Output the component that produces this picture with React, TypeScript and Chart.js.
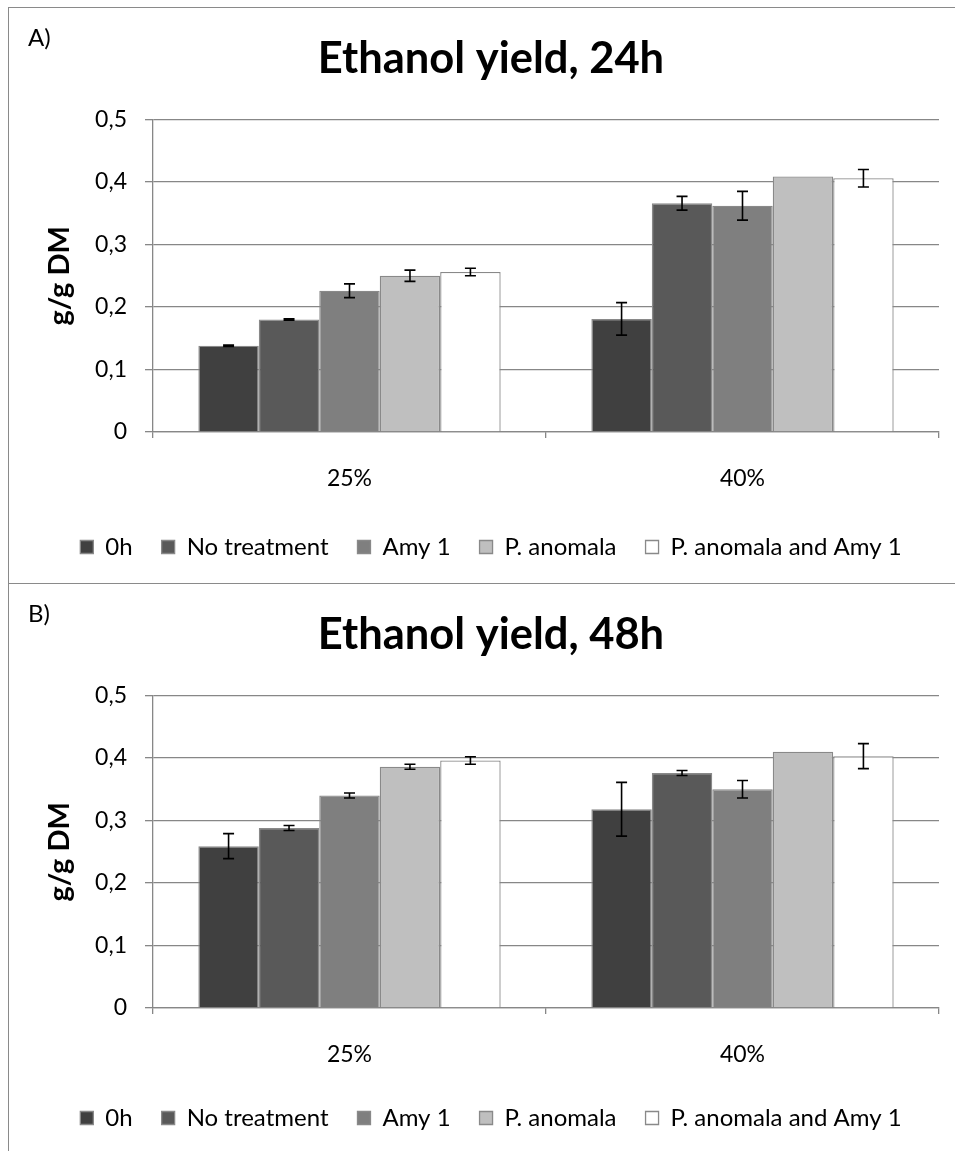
import React, { useEffect, useRef } from 'react';
import { Chart, registerables } from 'chart.js';

Chart.register(...registerables);

// ---------- data ----------
const categories = ['25%', '40%'];
const seriesNames = ['0h', 'No treatment', 'Amy 1', 'P. anomala', 'P. anomala and Amy 1'];
const seriesColors = ['#404040', '#595959', '#7f7f7f', '#bfbfbf', '#ffffff'];
const yTickValues = [0, 0.1, 0.2, 0.3, 0.4, 0.5];
const yTickLabels = ['0', '0,1', '0,2', '0,3', '0,4', '0,5'];

// Panel A: 24h
const yield24_0h = [0.138, 0.181];
const yield24_noTreatment = [0.180, 0.366];
const yield24_amy1 = [0.226, 0.362];
const yield24_pAnomala = [0.250, 0.409];
const yield24_pAnomalaAmy1 = [0.256, 0.406];
const err24_0h = [0.001, 0.026];
const err24_noTreatment = [0.001, 0.011];
const err24_amy1 = [0.011, 0.023];
const err24_pAnomala = [0.009, 0];
const err24_pAnomalaAmy1 = [0.006, 0.014];

// Panel B: 48h
const yield48_0h = [0.259, 0.318];
const yield48_noTreatment = [0.288, 0.376];
const yield48_amy1 = [0.340, 0.350];
const yield48_pAnomala = [0.386, 0.410];
const yield48_pAnomalaAmy1 = [0.396, 0.403];
const err48_0h = [0.020, 0.043];
const err48_noTreatment = [0.004, 0.004];
const err48_amy1 = [0.004, 0.014];
const err48_pAnomala = [0.004, 0];
const err48_pAnomalaAmy1 = [0.006, 0.020];

const values24 = [yield24_0h, yield24_noTreatment, yield24_amy1, yield24_pAnomala, yield24_pAnomalaAmy1];
const errors24 = [err24_0h, err24_noTreatment, err24_amy1, err24_pAnomala, err24_pAnomalaAmy1];
const values48 = [yield48_0h, yield48_noTreatment, yield48_amy1, yield48_pAnomala, yield48_pAnomalaAmy1];
const errors48 = [err48_0h, err48_noTreatment, err48_amy1, err48_pAnomala, err48_pAnomalaAmy1];

// ---------- styling ----------
const FONT = 'Lato, "Open Sans", sans-serif';
const GRID = '#878787';
const CANVAS_W = 964;
const CANVAS_H = 575;

const errorBarPlugin = {
  id: 'errorBars',
  afterDatasetsDraw(chart: any) {
    const ctx = chart.ctx;
    const yScale = chart.scales.y;
    chart.data.datasets.forEach((ds: any, di: number) => {
      const errs = ds.errors;
      if (!errs) return;
      const meta = chart.getDatasetMeta(di);
      meta.data.forEach((bar: any, i: number) => {
        const e = errs[i];
        if (!e) return;
        const v = ds.data[i];
        const top = yScale.getPixelForValue(v + e);
        const bot = yScale.getPixelForValue(v - e);
        const x = bar.x;
        ctx.save();
        ctx.strokeStyle = '#000000';
        ctx.lineWidth = 1.6;
        ctx.beginPath();
        ctx.moveTo(x, top);
        ctx.lineTo(x, bot);
        ctx.moveTo(x - 5.5, top);
        ctx.lineTo(x + 5.5, top);
        ctx.moveTo(x - 5.5, bot);
        ctx.lineTo(x + 5.5, bot);
        ctx.stroke();
        ctx.restore();
      });
    });
  },
};

function makeConfig(title: string, values: number[][], errors: number[][], legendBottom: number, xAxisHeight: number) {
  return {
    type: 'bar',
    data: {
      labels: categories,
      datasets: seriesNames.map((name, i) => ({
        label: name,
        data: values[i],
        errors: errors[i],
        backgroundColor: seriesColors[i],
        borderColor: '#898989',
        borderWidth: 1.3,
        categoryPercentage: 5 / 6.5,
        barPercentage: 1,
      })),
    },
    options: {
      responsive: false,
      animation: false,
      devicePixelRatio: 1,
      layout: { padding: { left: 0, right: 0, top: 0, bottom: legendBottom } },
      plugins: {
        title: {
          display: true,
          text: title,
          color: '#000000',
          font: { family: FONT, size: 43.5, weight: 'bold', lineHeight: 1.2 },
          padding: { top: 24.9, bottom: 34.4 },
        },
        legend: {
          position: 'bottom',
          labels: {
            boxWidth: 13,
            boxHeight: 13,
            padding: 29,
            color: '#000000',
            font: { family: FONT, size: 24 },
          },
        },
        tooltip: { enabled: false },
      },
      scales: {
        x: {
          type: 'category',
          offset: true,
          grid: {
            display: true,
            offset: true,
            drawOnChartArea: false,
            drawTicks: true,
            tickLength: 6,
            color: GRID,
            lineWidth: 1.3,
          },
          border: { display: true, color: GRID, width: 1.3 },
          ticks: { padding: 26.3, color: '#000000', font: { family: FONT, size: 23 } },
          afterFit: (s: any) => { s.height = xAxisHeight; },
        },
        y: {
          type: 'linear',
          min: 0,
          max: 0.5,
          afterBuildTicks: (s: any) => { s.ticks = yTickValues.map((v) => ({ value: v })); },
          ticks: {
            padding: 18,
            color: '#000000',
            font: { family: FONT, size: 23 },
            callback: (_v: any, idx: number) => yTickLabels[idx],
          },
          grid: { color: GRID, lineWidth: 1.3, tickLength: 8, drawTicks: true },
          border: { display: true, color: GRID, width: 1.3 },
          title: {
            display: true,
            text: 'g/g DM',
            color: '#000000',
            font: { family: FONT, size: 29, weight: 'bold', lineHeight: 1.2 },
            padding: { top: 33.6, bottom: 0 },
          },
          afterFit: (s: any) => { s.width = 144; },
        },
        y2: {
          type: 'linear',
          position: 'right',
          display: true,
          grid: { display: false, drawTicks: false },
          ticks: { display: false },
          border: { display: false },
          afterFit: (s: any) => { s.width = CANVAS_W - 930; },
        },
      },
    },
    plugins: [errorBarPlugin],
  };
}

function ChartPanel(props: { title: string; values: number[][]; errors: number[][]; top: number; legendBottom: number; xAxisHeight: number }) {
  const ref = useRef<HTMLCanvasElement | null>(null);
  useEffect(() => {
    if (!ref.current) return;
    const chart = new Chart(ref.current, makeConfig(props.title, props.values, props.errors, props.legendBottom, props.xAxisHeight) as any);
    return () => chart.destroy();
  }, []);
  return (
    <canvas
      ref={ref}
      width={CANVAS_W}
      height={CANVAS_H}
      style={{ position: 'absolute', left: 9, top: props.top, width: CANVAS_W, height: CANVAS_H }}
    />
  );
}

export default function App() {
  const line = '#8a8a8a';
  const labelStyle: React.CSSProperties = {
    position: 'absolute',
    left: 28,
    fontFamily: FONT,
    fontSize: 24,
    lineHeight: '26px',
    color: '#000',
  };
  return (
    <div style={{ position: 'absolute', left: 0, top: 0, width: 955, height: 1151, overflow: 'hidden', background: '#ffffff' }}>
      <ChartPanel title="Ethanol yield, 24h" values={values24} errors={errors24} top={8} legendBottom={14} xAxisHeight={74} />
      <ChartPanel title="Ethanol yield, 48h" values={values48} errors={errors48} top={584} legendBottom={19} xAxisHeight={69} />
      <div style={{ ...labelStyle, top: 24 }}>A)</div>
      <div style={{ ...labelStyle, top: 600 }}>B)</div>
      <div style={{ position: 'absolute', left: 8, top: 6.5, width: 960, height: 1.4, background: line }} />
      <div style={{ position: 'absolute', left: 8, top: 582.5, width: 960, height: 1.4, background: line }} />
      <div style={{ position: 'absolute', left: 7.6, top: 6.5, width: 1.4, height: 1160, background: line }} />
    </div>
  );
}
